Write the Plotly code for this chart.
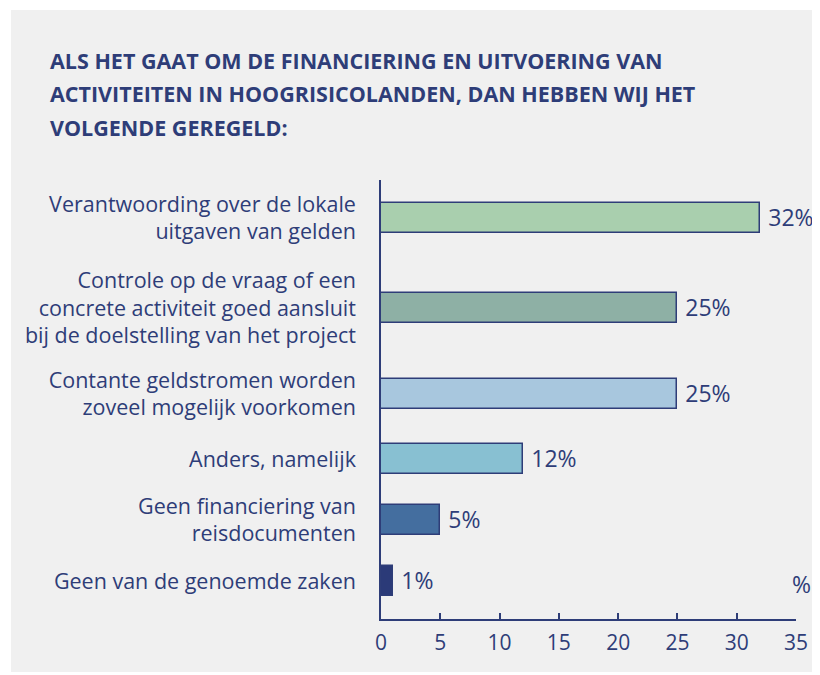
import plotly.graph_objects as go

# ---- data ----
categories = [
    "Verantwoording over de lokale<br>uitgaven van gelden",
    "Controle op de vraag of een<br>concrete activiteit goed aansluit<br>bij de doelstelling van het project",
    "Contante geldstromen worden<br>zoveel mogelijk voorkomen",
    "Anders, namelijk",
    "Geen financiering van<br>reisdocumenten",
    "Geen van de genoemde zaken",
]
values = [32, 25, 25, 12, 5, 1]
value_labels = ["32%", "25%", "25%", "12%", "5%", "1%"]
x_ticks = [0, 5, 10, 15, 20, 25, 30, 35]
title_lines = [
    "ALS HET GAAT OM DE FINANCIERING EN UITVOERING VAN",
    "ACTIVITEITEN IN HOOGRISICOLANDEN, DAN HEBBEN WIJ HET",
    "VOLGENDE GEREGELD:",
]

# ---- layout / style ----
bar_colors = ["#a9cfae", "#8eb0a5", "#a8c7de", "#88c0d2", "#446e9f", "#2b3a78"]
row_centers = [38, 128, 214, 279, 340, 401]   # vertical slot positions (layout)
navy = "#2e3d78"
panel = "#f0f0f0"
FONT = "Open Sans"

OFF = 8  # page body margin
W, H = 820 - OFF, 675 - OFF
L, R, T, B = 381 - OFF, 796 - OFF, 180 - OFF, 619 - OFF  # plot area in pixels


def px_x(p):
    return (p - OFF - L) / (R - L)


def px_y(p):
    return (B - (p - OFF)) / (B - T)


fig = go.Figure()
fig.add_trace(go.Bar(
    x=values,
    y=row_centers,
    orientation="h",
    width=30,
    marker=dict(color=bar_colors, line=dict(color=navy, width=1.5)),
    text=[" " + t for t in value_labels],
    textposition="outside",
    constraintext="none",
    cliponaxis=False,
    textfont=dict(family=FONT, size=23, color=navy),
    hoverinfo="skip",
))

annotations = []
for i, line in enumerate(title_lines):
    annotations.append(dict(
        text="<b>" + line + "</b>", xref="paper", yref="paper",
        x=px_x(48), y=px_y(61 + 33 * i), xanchor="left", yanchor="middle",
        showarrow=False, font=dict(family=FONT, size=21.5, color=navy),
    ))
annotations.append(dict(
    text="%", xref="paper", yref="paper", x=px_x(813), y=px_y(584),
    xanchor="right", yanchor="middle", showarrow=False,
    font=dict(family=FONT, size=23, color=navy),
))

fig.update_layout(
    width=W, height=H,
    margin=dict(l=L, r=W - R, t=T, b=H - B, pad=0),
    paper_bgcolor="white",
    plot_bgcolor=panel,
    showlegend=False,
    bargap=0,
    annotations=annotations,
    shapes=[dict(
        type="rect", xref="paper", yref="paper", layer="below",
        x0=px_x(11), x1=px_x(816), y0=px_y(672), y1=px_y(10),
        fillcolor=panel, line=dict(width=0),
    )],
    font=dict(family=FONT, color=navy),
)
fig.update_xaxes(
    range=[0, 35], tickvals=x_ticks, ticktext=[str(v) for v in x_ticks],
    showgrid=False, zeroline=False,
    showline=True, linecolor=navy, linewidth=1.5,
    ticks="inside", ticklen=6, tickwidth=1.5, tickcolor=navy,
    tickfont=dict(family=FONT, size=21, color=navy),
    ticklabelstandoff=4,
)
fig.update_yaxes(
    range=[439, 0], tickvals=row_centers, ticktext=categories,
    showgrid=False, zeroline=False,
    showline=True, linecolor=navy, linewidth=1.5,
    ticks="", tickfont=dict(family=FONT, size=21.5, color=navy),
    ticklabelstandoff=19,
)

fig.write_html("out.html")
